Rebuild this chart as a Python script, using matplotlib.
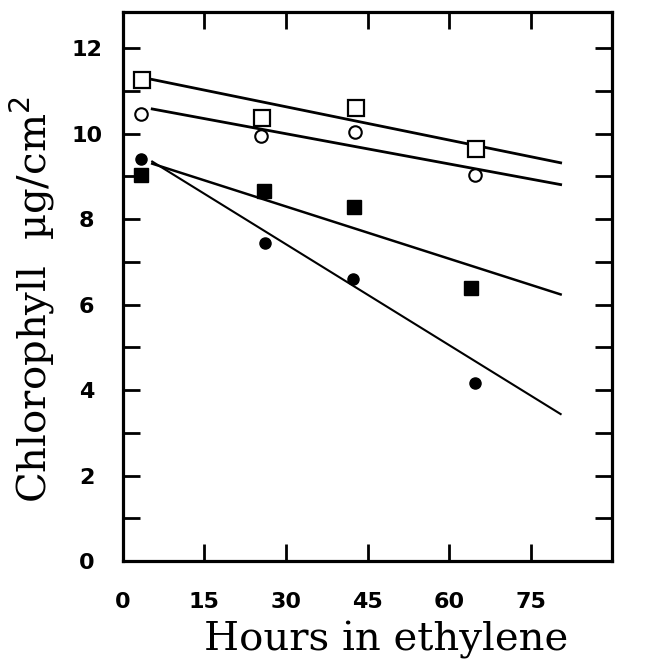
import matplotlib
matplotlib.use("Agg")
import matplotlib.pyplot as plt
import numpy as np

# data
hours_open_sq = [3.6, 25.6, 42.8, 65.0]
chl_open_sq = [11.25, 10.36, 10.61, 9.65]
hours_open_ci = [3.3, 25.4, 42.6, 64.8]
chl_open_ci = [10.47, 9.94, 10.04, 9.03]
hours_fill_ci = [3.4, 26.2, 42.3, 64.7]
chl_fill_ci = [9.40, 7.45, 6.61, 4.16]
hours_fill_sq = [3.4, 25.9, 42.5, 64.1]
chl_fill_sq = [9.03, 8.66, 8.29, 6.39]

# fitted lines, end points
fit_x = [5.4, 80.5]
fit_open_sq = [11.27, 9.32]
fit_open_ci = [10.58, 8.81]
fit_fill_sq = [9.30, 6.24]
fit_fill_ci = [9.35, 3.44]

xticks = [0, 15, 30, 45, 60, 75]
yticks = [0, 2, 4, 6, 8, 10, 12]

fig = plt.figure(figsize=(6.5, 6.64), dpi=100)
ax = fig.add_axes([0.189, 0.155, 0.753, 0.827])

ax.plot(fit_x, fit_open_sq, color='black', lw=2.0, zorder=2)
ax.plot(fit_x, fit_open_ci, color='black', lw=2.0, zorder=2)
ax.plot(fit_x, fit_fill_sq, color='black', lw=1.8, zorder=2)
ax.plot(fit_x, fit_fill_ci, color='black', lw=1.5, zorder=2)

ax.plot(hours_open_sq, chl_open_sq, 's', ms=11, mfc='white', mec='black', mew=1.6, zorder=3)
ax.plot(hours_open_ci, chl_open_ci, 'o', ms=9, mfc='white', mec='black', mew=1.5, zorder=3)
ax.plot(hours_fill_ci, chl_fill_ci, 'o', ms=8, color='black', zorder=3)
ax.plot(hours_fill_sq, chl_fill_sq, 's', ms=10.5, color='black', zorder=3)

ax.set_xlim(0, 90)
ax.set_ylim(0, 12.85)

ax.set_xticks(xticks)
ax.set_yticks(yticks)
ax.set_yticks(np.arange(1, 13, 2), minor=True)
lab_font = {'family': 'DejaVu Sans', 'weight': 'bold', 'size': 16}
ax.set_xticklabels([str(t) for t in xticks], fontdict=lab_font)
ax.set_yticklabels([str(t) for t in yticks], fontdict=lab_font, ha='center')

ax.tick_params(which='both', direction='in', length=12, width=2,
               top=True, right=True, color='black')
ax.tick_params(axis='x', pad=22)
ax.tick_params(axis='y', pad=26)
for s in ax.spines.values():
    s.set_linewidth(2.3)

ax.set_xlabel('Hours in ethylene', family='DejaVu Serif', size=29)
ax.set_ylabel('Chlorophyll  \u00b5g/cm$^2$', family='DejaVu Serif', size=29)
ax.xaxis.set_label_coords(0.538, -0.11)
ax.yaxis.set_label_coords(-0.135, 0.476)

fig.savefig('out.png', dpi=100)
